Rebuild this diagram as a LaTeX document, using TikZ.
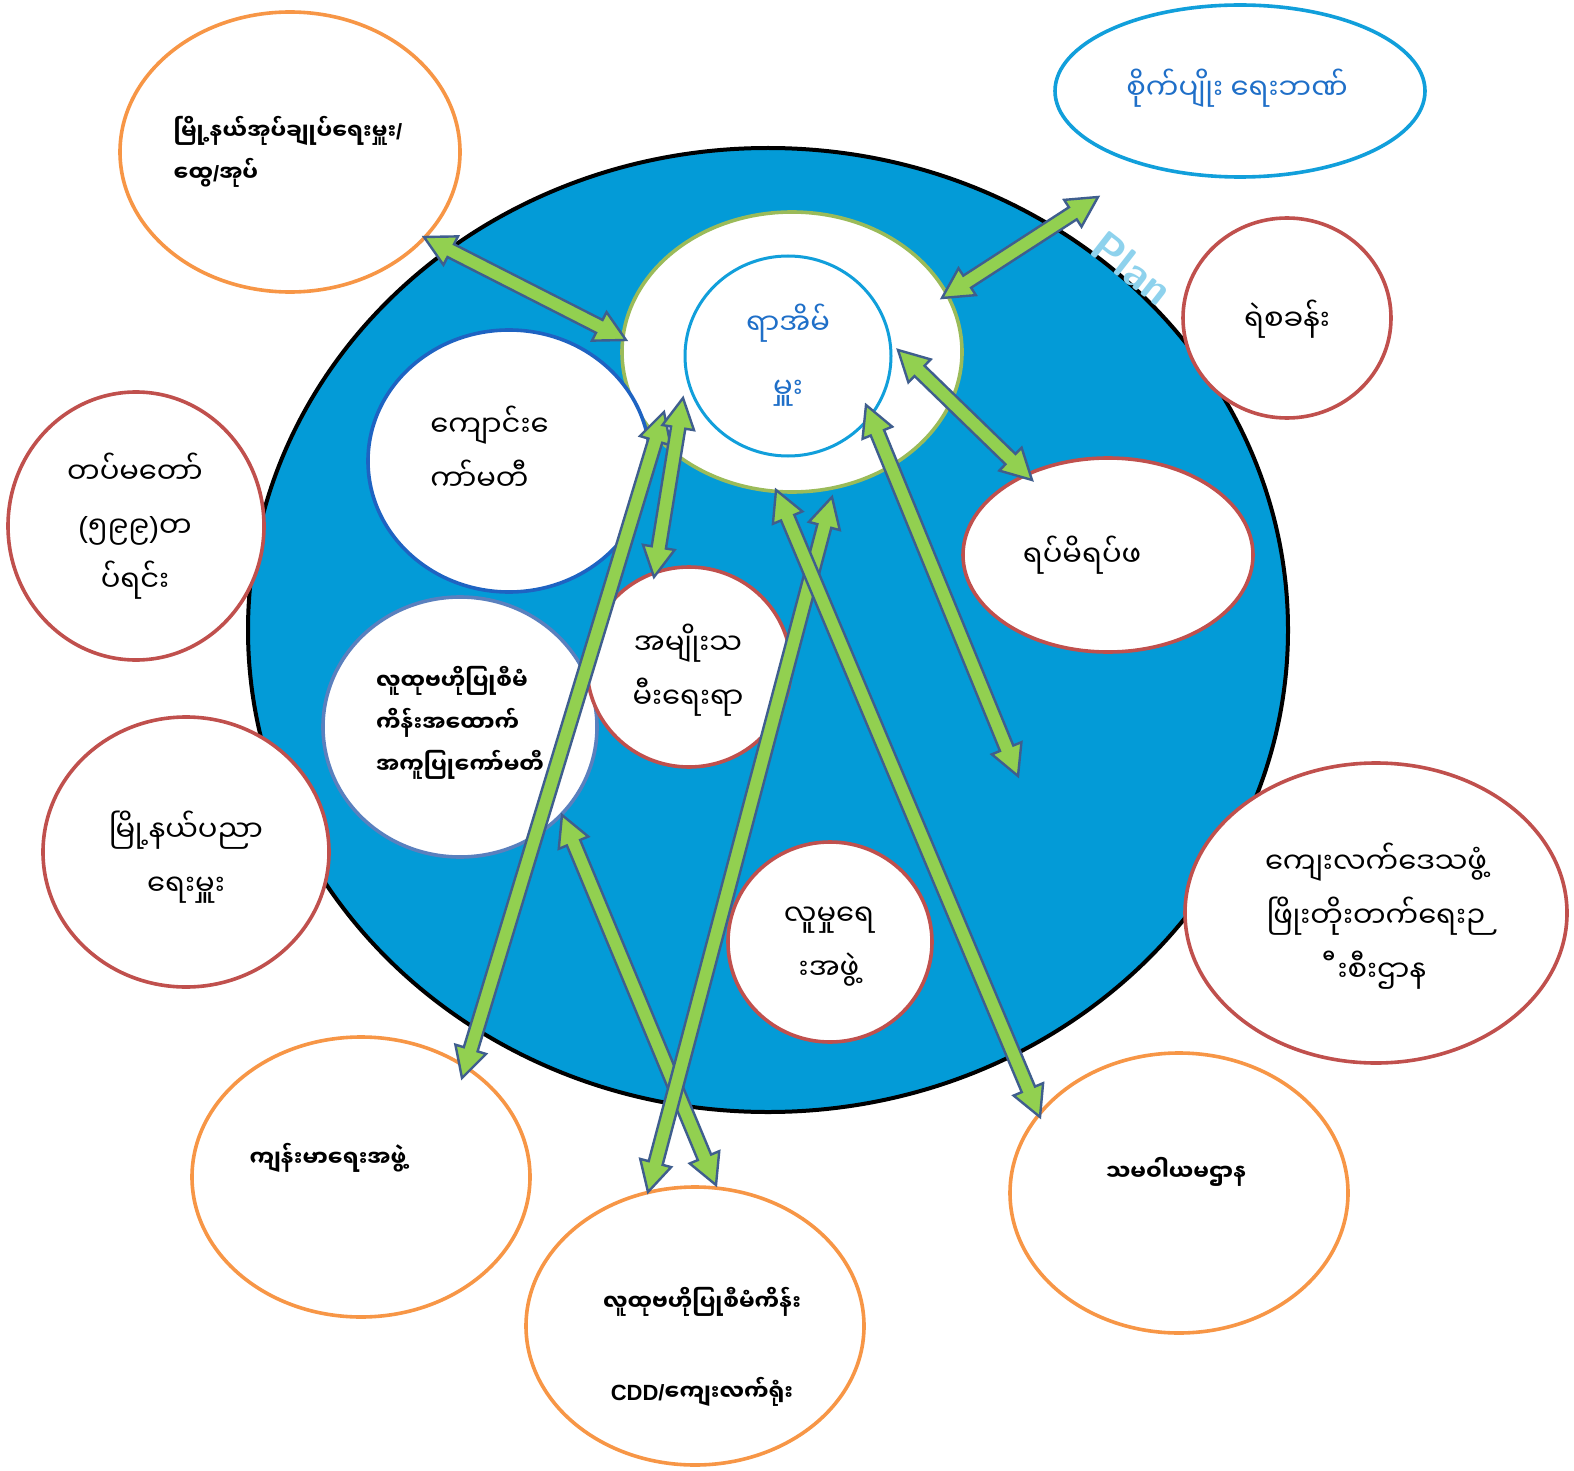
\documentclass[tikz,border=0pt]{standalone}
\usepackage{fontspec}
\usetikzlibrary{shapes.geometric,calc}
\newfontfamily\mm[Script=Myanmar]{Noto Sans Myanmar UI}
\newfontfamily\lat{Liberation Sans}
\newcommand\rawg[1]{\XeTeXglyph\XeTeXcharglyph"#1\relax}
\definecolor{bigblue}{HTML}{039BD7}
\definecolor{orng}{HTML}{F79646}
\definecolor{rred}{HTML}{C0504D}
\definecolor{olive}{HTML}{9BBB59}
\definecolor{lblue}{HTML}{119FDB}
\definecolor{tblue}{HTML}{1F6FC8}
\definecolor{sblue}{HTML}{1E63C2}
\definecolor{steel}{HTML}{5A80BE}
\definecolor{agreen}{HTML}{92D050}
\definecolor{aline}{HTML}{3F5E8E}
\tikzset{
  oval/.style={ellipse, inner sep=0pt, fill=white, line width=1.8pt},
  orangeoval/.style={oval, draw=orng},
  redoval/.style={oval, draw=rred},
  txt/.style={font=\mm\fontsize{14.5}{27}\selectfont, align=center, inner sep=0pt},
  btxt/.style={font=\mm\bfseries\fontsize{11}{21}\selectfont, align=left, inner sep=0pt},
  farrow/.style={fill=agreen, draw=aline, line width=1.2pt, line join=miter}
}
\def\arrHL{15pt}
\def\arrHW{8pt}
\def\arrSW{3.6pt}
\newcommand\fatarrow[2]{%
  \draw[farrow] (#1)
    -- ($(#1)!\arrHL!(#2)!\arrHW!90:(#2)$)
    -- ($(#1)!\arrHL!(#2)!\arrSW!90:(#2)$)
    -- ($(#2)!\arrHL!(#1)!\arrSW!-90:(#1)$)
    -- ($(#2)!\arrHL!(#1)!\arrHW!-90:(#1)$)
    -- (#2)
    -- ($(#2)!\arrHL!(#1)!\arrHW!90:(#1)$)
    -- ($(#2)!\arrHL!(#1)!\arrSW!90:(#1)$)
    -- ($(#1)!\arrHL!(#2)!\arrSW!-90:(#2)$)
    -- ($(#1)!\arrHL!(#2)!\arrHW!-90:(#2)$)
    -- cycle;}
\begin{document}
\begin{tikzpicture}[x=0.5pt,y=-0.5pt]
\useasboundingbox (0,0) rectangle (1574,1471);
\fill[white] (0,0) rectangle (1574,1471);

% big circle
\node[oval, fill=bigblue, draw=black, line width=2pt, minimum width=520pt, minimum height=482pt] (big) at (768,630) {};

% watermark
\node[font=\sffamily\bfseries\fontsize{22}{22}\selectfont, text=bigblue!45!white, rotate=-38] (wm) at (1132,268) {Plan};

% centre
\node[oval, draw=olive, minimum width=170pt, minimum height=140pt] (raouter) at (792,352) {};
\node[oval, draw=lblue, line width=1.5pt, minimum width=103pt, minimum height=100pt] (ra) at (788,356) {};
\node[txt, text=tblue] (tra) at (788,355) {ရာအိမ်\\[5pt]မှူး};

% inner circles
\node[oval, draw=sblue, minimum width=141pt, minimum height=131pt] (school) at (509,461) {};
\node[txt, align=left, anchor=west] (tschool) at (430,448) {ကျောင်း\rawg{1031}\\ကာ်မတီ};

\node[oval, draw=steel, minimum width=137pt, minimum height=130pt] (cddc) at (460,727) {};
\node[btxt] (tcddc) at (460,723) {လူထုဗဟိုပြုစီမံ\\ကိန်းအထောက်\\အကူပြုကော်မတီ};

\node[redoval, minimum width=102pt, minimum height=100pt] (women) at (689,667) {};
\node[txt] (twomen) at (688,670) {အမျိုးသ\\မီးရေးရာ};

\node[redoval, minimum width=102pt, minimum height=100pt] (social) at (830,942) {};
\node[txt] (tsocial) at (829,947) {လူမှုရေ\\\rawg{1038}အဖွဲ့};

\node[redoval, minimum width=145pt, minimum height=97pt] (ward) at (1108,555) {};
\node[txt] (tward) at (1082,555) {ရပ်မိရပ်ဖ};

% outer shapes
\node[orangeoval, minimum width=170pt, minimum height=140pt] (tsa) at (290,152) {};
\node[btxt] (ttsa) at (288,152) {မြို့နယ်အုပ်ချုပ်ရေးမှူး{\lat\bfseries/}\\ထွေ{\lat\bfseries/}အုပ်};

\node[oval, draw=lblue, minimum width=185pt, minimum height=86pt] (bank) at (1240,91) {};
\node[txt, text=tblue] (tbank) at (1237,88) {စိုက်ပျိုး ရေးဘဏ်};

\node[redoval, minimum width=104pt, minimum height=100pt] (police) at (1287,318) {};
\node[txt] (tpolice) at (1287,319) {ရဲစခန်း};

\node[redoval, minimum width=128pt, minimum height=134pt] (army) at (136,526) {};
\node[txt] (tarmy) at (135,526) {တပ်မတော်\\{\lat(}၅၉၉{\lat)}တ\\ပ်ရင်း};

\node[redoval, minimum width=143pt, minimum height=135pt] (edu) at (186,852) {};
\node[txt] (tedu) at (186,857) {မြို့နယ်ပညာ\\ရေးမှူး};

\node[redoval, minimum width=191pt, minimum height=150pt] (drd) at (1376,913) {};
\node[txt] (tdrd) at (1376,916) {ကျေးလက်ဒေသဖွံ့\\ဖြိုးတိုးတက်ရေးဉ\\\kern0.4em\rawg{102E}\rawg{1038}စီးဌာန};

\node[orangeoval, minimum width=169pt, minimum height=140pt] (health) at (361,1177) {};
\node[btxt] (thealth) at (328,1158) {ကျန်းမာရေးအဖွဲ့};

\node[orangeoval, minimum width=169pt, minimum height=139pt] (cdd) at (695,1326) {};
\node[btxt, align=center] (tcdd) at (702,1347) {လူထုဗဟိုပြုစီမံကိန်း\\[24pt]{\lat\bfseries CDD/}ကျေးလက်ရုံး};

\node[orangeoval, minimum width=169pt, minimum height=140pt] (coop) at (1179,1193) {};
\node[btxt] (tcoop) at (1176,1172) {သမဝါယမဌာန};

% arrow end points
\coordinate (a1s) at (424,237);  \coordinate (a1e) at (626,340);
\coordinate (a2s) at (1098,197); \coordinate (a2e) at (942,298);
\coordinate (a3s) at (898,350);  \coordinate (a3e) at (1032,480);
\coordinate (a4s) at (683,398);  \coordinate (a4e) at (654,577);
\coordinate (a5s) at (664,412);  \coordinate (a5e) at (462,1078);
\coordinate (a6s) at (562,815);  \coordinate (a6e) at (716,1185);
\coordinate (a7s) at (832,497);  \coordinate (a7e) at (648,1192);
\coordinate (a8s) at (776,490);  \coordinate (a8e) at (1040,1117);
\coordinate (a9s) at (866,405);  \coordinate (a9e) at (1018,776);

\fatarrow{a1s}{a1e}
\fatarrow{a2s}{a2e}
\fatarrow{a3s}{a3e}
\fatarrow{a5s}{a5e}
\fatarrow{a4s}{a4e}
\fatarrow{a6s}{a6e}
\fatarrow{a7s}{a7e}
\fatarrow{a8s}{a8e}
\fatarrow{a9s}{a9e}
\end{tikzpicture}
\end{document}
